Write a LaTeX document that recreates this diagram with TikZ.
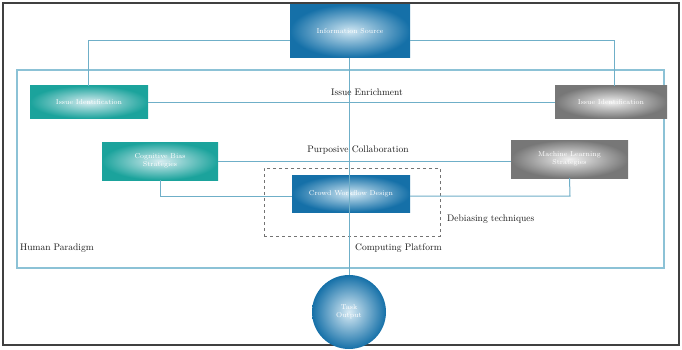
\documentclass[tikz,border=0pt]{standalone}
\usetikzlibrary{calc}
\definecolor{lineblue}{HTML}{6FAFC8}
\definecolor{frameblue}{HTML}{8CC2D6}
\definecolor{bluedark}{HTML}{1570A8}
\definecolor{bluelight}{HTML}{CFE6F2}
\definecolor{tealdark}{HTML}{1BA39C}
\definecolor{teallight}{HTML}{D6ECF0}
\definecolor{graydark}{HTML}{777777}
\definecolor{graylight}{HTML}{F0F0F0}
\begin{document}
\begin{tikzpicture}[x=1pt,y=-1pt,
  conn/.style={draw=lineblue,line width=1pt},
  bluebox/.style={inner sep=0pt,outer sep=0pt,inner color=bluelight,outer color=bluedark,text=white,font=\fontsize{7}{8}\selectfont,align=center},
  tealbox/.style={inner sep=0pt,outer sep=0pt,inner color=teallight,outer color=tealdark,text=white,font=\fontsize{7}{8}\selectfont,align=center},
  graybox/.style={inner sep=0pt,outer sep=0pt,inner color=graylight,outer color=graydark,text=white,font=\fontsize{7}{8}\selectfont,align=center},
  lbl/.style={font=\fontsize{9.5}{10}\selectfont,text=black!90,inner sep=1pt},
  plain/.style={font=\fontsize{9.5}{10}\selectfont,text=black!90,inner sep=0pt,anchor=west}]
\useasboundingbox (0,0) rectangle (682,349);
\fill[white] (0,0) rectangle (682,349);
% outer border
\draw[black!75,line width=1.2pt] (3,3) rectangle (679,345);
% inner frame
\node[draw=frameblue,line width=1.2pt,minimum width=647pt,minimum height=198pt,inner sep=0pt] (frame) at (340.5,169) {};
% nodes
\node[bluebox,minimum width=120pt,minimum height=53pt] (src) at (350,31) {Information Source};
\node[tealbox,minimum width=118pt,minimum height=33pt] (l1) at (89,102) {Issue Identification};
\node[graybox,minimum width=112pt,minimum height=33pt] (r1) at (611,102) {Issue Identification};
\node[tealbox,minimum width=116pt,minimum height=38pt] (l2) at (160,161) {Cognitive Bias\\Strategies};
\node[graybox,minimum width=117pt,minimum height=38pt] (r2) at (569.5,159) {Machine Learning\\Strategies};
\node[bluebox,minimum width=118pt,minimum height=37pt] (ctr) at (351,193.5) {Crowd Workflow Design};
\node[draw=black!55,dashed,line width=0.9pt,minimum width=176pt,minimum height=68pt,inner sep=0pt] (dbox) at (352,202) {};
\node[circle,bluebox,minimum size=74pt,inner color=bluelight!80!white,outer color=bluedark] (out) at (349,312) {Task\\Output};
% connectors
\coordinate (tl) at (88,40);
\coordinate (tr) at (614,40);
\draw[conn] (src.west |- tl) -- (tl) -- (tl |- l1.north);
\draw[conn] (src.east |- tr) -- (tr) -- (tr |- r1.north);
\draw[conn] (l1.east) -- (r1.west);
\draw[conn] (l2.east) -- (r2.west |- l2.east);
\coordinate (bl) at (160,196);
\coordinate (br) at (570,196);
\draw[conn] (l2.south) -- (bl) -- (ctr.west |- bl);
\draw[conn] (r2.south) -- (br) -- (ctr.east |- br);
\draw[conn] (src.south -| 349,0) -- (out.north -| 349,0);
% labels
\node[lbl] at (367,92) {Issue Enrichment};
\node[lbl] at (358,150) {Purposive Collaboration};
\node[plain] at (447,219) {Debiasing techniques};
\node[plain] at (20,248) {Human Paradigm};
\node[plain] at (355,248) {Computing Platform};
\end{tikzpicture}
\end{document}
